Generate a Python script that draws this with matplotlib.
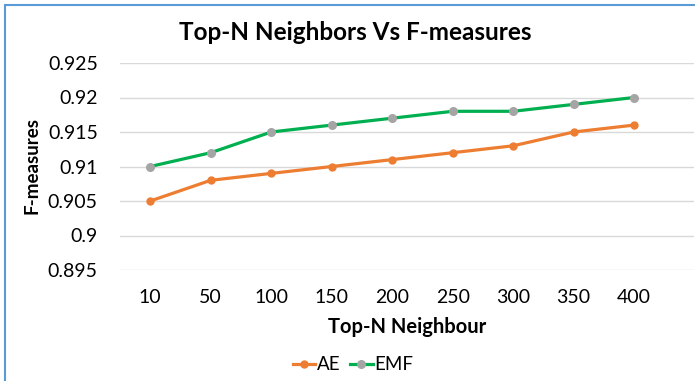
import matplotlib.pyplot as plt
from matplotlib.patches import Rectangle

top_n = ["10", "50", "100", "150", "200", "250", "300", "350", "400"]
ae = [0.905, 0.908, 0.909, 0.910, 0.911, 0.912, 0.913, 0.915, 0.916]
emf = [0.910, 0.912, 0.915, 0.916, 0.917, 0.918, 0.918, 0.919, 0.920]
y_ticks = [0.895, 0.9, 0.905, 0.91, 0.915, 0.92, 0.925]
y_tick_labels = ["0.895", "0.9", "0.905", "0.91", "0.915", "0.92", "0.925"]

plt.rcParams["font.family"] = ["Lato", "DejaVu Sans"]

fig = plt.figure(figsize=(6.95, 3.81), dpi=100)
ax = fig.add_axes([120 / 695, 1 - 270 / 381, (694 - 120) / 695, (270 - 63) / 381])

x = list(range(len(top_n)))
ax.plot(x, ae, color="#ED7D31", lw=2.3, marker="o", ms=5, mfc="#ED7D31", mec="#ED7D31", label="AE")
ax.plot(x, emf, color="#00B050", lw=2.3, marker="o", ms=5.5, mfc="#A5A5A5", mec="#A5A5A5", label="EMF")

ax.set_xlim(-0.5, 8.99)
ax.set_ylim(0.895, 0.925)
ax.set_yticks(y_ticks)
ax.set_yticklabels(y_tick_labels)
ax.set_xticks(x)
ax.set_xticklabels(top_n)
ax.tick_params(length=0, labelsize=14, colors="#000000")
ax.tick_params(axis="y", pad=16)
ax.tick_params(axis="x", pad=14)
ax.grid(axis="y", color="#D9D9D9", lw=1)
ax.set_axisbelow(True)
for s in ax.spines.values():
    s.set_visible(False)

fig.text(355 / 695, 1 - 33 / 381, "Top-N Neighbors Vs F-measures",
         ha="center", va="center", fontsize=17.5, fontweight="bold")
fig.text(407 / 695, 1 - 327 / 381, "Top-N Neighbour", ha="center", va="center",
         fontsize=14.5, fontweight="bold")
fig.text(32 / 695, 1 - 166 / 381, "F-measures", ha="center", va="center",
         fontsize=13.5, fontweight="bold", rotation=90)

fig.legend(loc="center", bbox_to_anchor=(353 / 695, 1 - 365 / 381), ncol=2, frameon=False,
           fontsize=13.5, handlelength=1.2, handletextpad=0.1, columnspacing=0.5)

# blue chart-area border on left and top
fig.add_artist(Rectangle((5 / 695, -0.1), 1.2, 1 - 5 / 381 + 0.1, transform=fig.transFigure,
                         fill=False, ec="#5B9BD5", lw=1.5))

fig.savefig("out.png", dpi=100)
